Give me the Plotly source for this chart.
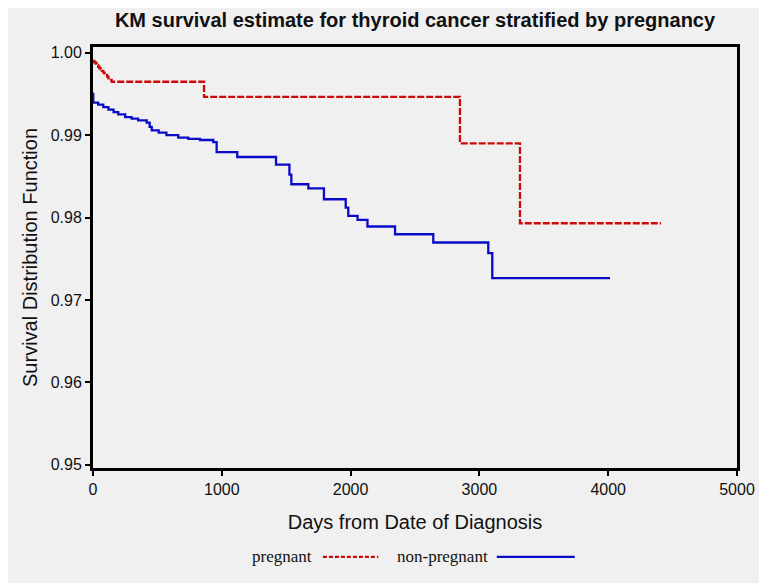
import plotly.graph_objects as go

# ---- data ----
preg_days = [0, 10, 20, 30, 40, 50, 60, 70, 80, 90, 100, 110, 120, 132, 145, 862, 2849, 3315, 4410]
preg_surv = [0.9990, 0.99885, 0.9987, 0.9985, 0.9983, 0.9981, 0.9980, 0.9978, 0.9976,
             0.9975, 0.9973, 0.9971, 0.9969, 0.9967, 0.99648,
             0.99465, 0.98901, 0.97931, 0.97931]

nonpreg_days = [0, 2, 40, 80, 120, 160, 196, 250, 300, 350, 417, 440, 456, 510,
                570, 662, 740, 831, 934, 960, 1120, 1421, 1525, 1540, 1672, 1793,
                1962, 1982, 2054, 2131, 2345, 2642, 3069, 3100, 4014]
nonpreg_surv = [0.9950, 0.99394, 0.9937, 0.9934, 0.9931, 0.9928, 0.99252, 0.9922,
                0.9920, 0.9918, 0.99152, 0.9910, 0.99058, 0.9903, 0.9900, 0.9897,
                0.98955, 0.98941, 0.98916, 0.98795, 0.98735, 0.98642, 0.9852,
                0.98404, 0.98355, 0.98222, 0.9812, 0.9802, 0.97971, 0.97891,
                0.97797, 0.97697, 0.97567, 0.97264, 0.97264]

x_ticks = [0, 1000, 2000, 3000, 4000, 5000]
y_ticks = [0.95, 0.96, 0.97, 0.98, 0.99, 1.00]
y_tick_labels = ["0.95", "0.96", "0.97", "0.98", "0.99", "1.00"]

RED = "#cc0a0a"
BLUE = "#0a0ac8"
BG = "#f0f0f0"
SANS = "Liberation Sans, Arial"
SERIF = "Liberation Serif, Times New Roman"

fig = go.Figure()
fig.add_trace(go.Scatter(x=preg_days, y=preg_surv, mode="lines", line_shape="hv",
                         line=dict(color=RED, width=2.3, dash="7px,2px"),
                         name="pregnant", showlegend=False))
fig.add_trace(go.Scatter(x=nonpreg_days, y=nonpreg_surv, mode="lines", line_shape="hv",
                         line=dict(color=BLUE, width=2.3),
                         name="non-pregnant", showlegend=False))

axis_common = dict(showgrid=False, zeroline=False, showline=True, linecolor="black",
                   linewidth=3, mirror=True, ticks="outside", ticklen=5, tickwidth=2,
                   tickcolor="black",
                   tickfont=dict(family=SANS, size=16, color="#111"))

fig.update_xaxes(range=[0, 5000], tickvals=x_ticks, ticktext=[str(v) for v in x_ticks],
                 title=dict(text="Days from Date of Diagnosis", standoff=18,
                            font=dict(family=SANS, size=20, color="#111")),
                 **axis_common)
fig.update_yaxes(range=[0.9496, 1.0007], tickvals=y_ticks, ticktext=y_tick_labels,
                 title=dict(text="Survival Distribution Function", standoff=8,
                            font=dict(family=SANS, size=20, color="#111")),
                 **axis_common)

# manual legend (text followed by line sample)
leg_y = -0.211
fig.add_annotation(x=0.343, y=leg_y, xref="paper", yref="paper", text="pregnant",
                   showarrow=False, xanchor="right", yanchor="middle",
                   font=dict(family=SERIF, size=17, color="#111"))
fig.add_shape(type="line", xref="paper", yref="paper", x0=0.357, x1=0.443,
              y0=leg_y, y1=leg_y, line=dict(color=RED, width=2.3, dash="4px,2px"))
fig.add_annotation(x=0.469, y=leg_y, xref="paper", yref="paper", text="non-pregnant",
                   showarrow=False, xanchor="left", yanchor="middle",
                   font=dict(family=SERIF, size=17, color="#111"))
fig.add_shape(type="line", xref="paper", yref="paper", x0=0.627, x1=0.748,
              y0=leg_y, y1=leg_y, line=dict(color=BLUE, width=2.3))

fig.update_layout(
    width=759, height=575,
    margin=dict(l=85, r=30, t=39, b=115),
    paper_bgcolor=BG, plot_bgcolor=BG,
    title=dict(text="<b>KM survival estimate for thyroid cancer stratified by pregnancy</b>",
               x=0.5, xref="paper", xanchor="center",
               y=1 - 12 / 575, yref="container", yanchor="middle",
               font=dict(family=SANS, size=20, color="#111")),
)

fig.write_html("out.html")
